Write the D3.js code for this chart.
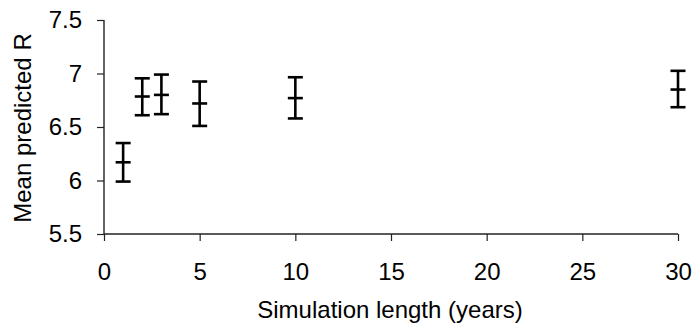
<!DOCTYPE html>
<html>
<head>
<meta charset="utf-8">
<script src="https://cdn.jsdelivr.net/npm/d3@7"></script>
<style>
  body { margin: 0; background: #fff; }
  svg text { font-family: "Liberation Sans", Arial, sans-serif; fill: #000; }
</style>
</head>
<body>
<div id="viz"></div>
<script>
// simulation length (years) and predicted R stats
var years = [1, 2, 3, 5, 10, 30];
var meanR = [6.17, 6.785, 6.80, 6.72, 6.77, 6.85];
var upperR = [6.35, 6.955, 6.99, 6.925, 6.965, 7.025];
var lowerR = [5.99, 6.61, 6.62, 6.51, 6.58, 6.685];
var xTicks = [0, 5, 10, 15, 20, 25, 30];
var yTicks = [5.5, 6, 6.5, 7, 7.5];

var width = 693;
var height = 332;

var margin = { top: 20, left: 104, right: 15, bottom: 98 };

var svg = d3.select("#viz")
  .append("svg")
  .attr("width", width)
  .attr("height", height)
  .append("g")
  .attr("transform", "translate(" + margin.left + "," + margin.top + ")");

var w = width - margin.left - margin.right;
var h = height - margin.top - margin.bottom;

var x_scale = d3.scaleLinear().domain([0, 30]).range([0, 574]);
var y_scale = d3.scaleLinear().domain([5.5, 7.5]).range([h, 0]);

var x_axis = d3.axisBottom(x_scale).tickValues(xTicks).tickSize(7).tickPadding(22).tickFormat(d3.format("d"));
var y_axis = d3.axisLeft(y_scale).tickValues(yTicks).tickSize(7).tickPadding(15).tickFormat(function(d){ return d3.format("")(d); });

svg.append("g")
  .attr("class", "x axis")
  .attr("transform", "translate(0," + h + ")")
  .call(x_axis);

svg.append("g")
  .attr("class", "y axis")
  .call(y_axis);

svg.selectAll(".axis .domain").attr("stroke", "#222").attr("stroke-width", 1.4);
svg.selectAll(".axis .tick line").attr("stroke", "#222").attr("stroke-width", 1.2);
svg.selectAll(".axis text").style("font-size", "24px");
svg.select(".x.axis .domain").attr("d", "M0,0H" + x_scale(30));
svg.select(".y.axis .domain").attr("d", "M0,0V" + h);

var data = years.map(function(d, i){
  return { x: d, mean: meanR[i], hi: upperR[i], lo: lowerR[i] };
});

var cap = 7.5;
var bars = svg.selectAll(".err")
  .data(data)
  .enter()
  .append("g")
  .attr("class", "err")
  .attr("stroke", "#000")
  .attr("stroke-width", 2.6);

bars.append("line")
  .attr("x1", function(d){ return x_scale(d.x); })
  .attr("x2", function(d){ return x_scale(d.x); })
  .attr("y1", function(d){ return y_scale(d.hi); })
  .attr("y2", function(d){ return y_scale(d.lo); });

["hi", "mean", "lo"].forEach(function(k){
  bars.append("line")
    .attr("x1", function(d){ return x_scale(d.x) - cap; })
    .attr("x2", function(d){ return x_scale(d.x) + cap; })
    .attr("y1", function(d){ return y_scale(d[k]); })
    .attr("y2", function(d){ return y_scale(d[k]); });
});

svg.append("text")
  .attr("x", 286)
  .attr("y", h + 84)
  .style("text-anchor", "middle")
  .style("font-size", "24px")
  .text("Simulation length (years)");

svg.append("text")
  .attr("transform", "translate(-73," + (h / 2 + 1) + ")rotate(-90)")
  .style("text-anchor", "middle")
  .style("font-size", "24px")
  .text("Mean predicted R");
</script>
</body>
</html>
